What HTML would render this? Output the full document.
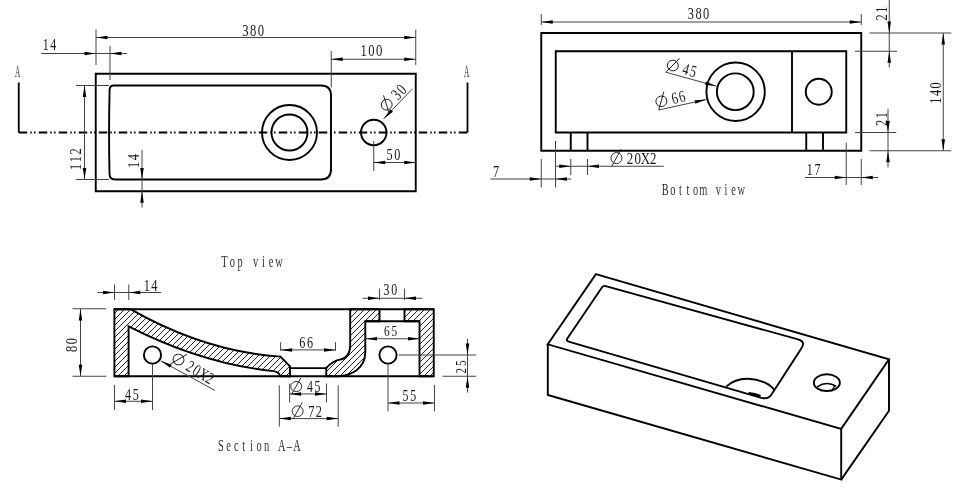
<!DOCTYPE html>
<html><head><meta charset="utf-8"><style>
html,body{margin:0;padding:0;background:#fff;width:960px;height:500px;overflow:hidden}
svg{display:block;filter:grayscale(1)}

</style></head><body>
<svg width="960" height="500" viewBox="0 0 960 500" stroke-linecap="butt">
<rect width="960" height="500" fill="#fff"/>
<path d="M95.75 73.75 H415.75 V191.25 H95.75 Z" stroke="#000" stroke-width="1.9" fill="none" /><path d="M113.5 85.5 H321 Q331 85.5 331 95.5 V169.5 Q331 179.5 321 179.5 H115 Q109.5 179.5 109.5 173.5 Q108.6 132 109.6 89.5 Q110 85.5 113.5 85.5 Z" stroke="#000" stroke-width="1.9" fill="none" /><circle cx="289.5" cy="132.5" r="27.5" stroke="#000" stroke-width="1.9" fill="none"/><circle cx="289.5" cy="132.5" r="18" stroke="#000" stroke-width="1.9" fill="none"/><circle cx="373.75" cy="132.5" r="12.75" stroke="#000" stroke-width="1.9" fill="none"/><path d="M18.75 82.5 V132.5 M467.5 82.5 V132.5" stroke="#000" stroke-width="1.8" fill="none"/><path d="M18.75 132.5 H467.5" stroke="#000" stroke-width="1.8" fill="none" stroke-dasharray="8.5 3 1.5 2.25 1.5 3.25"/><g transform="translate(17.6 71.2) rotate(0)"><text x="0.00" y="5.35" transform="scale(0.45 1)" font-size="16.34" text-anchor="middle" fill="#333" font-family="Liberation Serif">A</text></g><g transform="translate(466.6 71.2) rotate(0)"><text x="0.00" y="5.35" transform="scale(0.45 1)" font-size="16.34" text-anchor="middle" fill="#333" font-family="Liberation Serif">A</text></g><line x1="96" y1="29.5" x2="96" y2="65" stroke="#444" stroke-width="1.0"/><line x1="415.75" y1="29.5" x2="415.75" y2="65" stroke="#444" stroke-width="1.0"/><line x1="96" y1="37.5" x2="415.75" y2="37.5" stroke="#444" stroke-width="1.0"/><path d="M96.00 37.50 L107.50 35.75 L107.50 39.25 Z" fill="#000"/><path d="M415.75 37.50 L404.25 39.25 L404.25 35.75 Z" fill="#000"/><g transform="translate(253.1 29.9) rotate(0)"><text x="-10.41" y="5.60" transform="scale(0.74 1)" font-size="17.10" text-anchor="middle" fill="#1a1a1a" font-family="Liberation Serif">3</text><text x="0.00" y="5.60" transform="scale(0.74 1)" font-size="17.10" text-anchor="middle" fill="#1a1a1a" font-family="Liberation Serif">8</text><text x="10.41" y="5.60" transform="scale(0.74 1)" font-size="17.10" text-anchor="middle" fill="#1a1a1a" font-family="Liberation Serif">0</text></g><line x1="41" y1="53.5" x2="127" y2="53.5" stroke="#444" stroke-width="1.0"/><line x1="110" y1="46" x2="110" y2="80" stroke="#444" stroke-width="1.0"/><path d="M96.00 53.50 L84.50 55.25 L84.50 51.75 Z" fill="#000"/><path d="M110.00 53.50 L121.50 51.75 L121.50 55.25 Z" fill="#000"/><g transform="translate(49.5 44.6) rotate(0)"><text x="-5.20" y="5.30" transform="scale(0.74 1)" font-size="16.18" text-anchor="middle" fill="#1a1a1a" font-family="Liberation Serif">1</text><text x="5.20" y="5.30" transform="scale(0.74 1)" font-size="16.18" text-anchor="middle" fill="#1a1a1a" font-family="Liberation Serif">4</text></g><line x1="331.25" y1="51" x2="331.25" y2="87.5" stroke="#444" stroke-width="1.0"/><line x1="331.25" y1="59.25" x2="415.75" y2="59.25" stroke="#444" stroke-width="1.0"/><path d="M331.25 59.25 L342.75 57.50 L342.75 61.00 Z" fill="#000"/><path d="M415.75 59.25 L404.25 61.00 L404.25 57.50 Z" fill="#000"/><g transform="translate(371.4 50.8) rotate(0)"><text x="-10.41" y="5.60" transform="scale(0.74 1)" font-size="17.10" text-anchor="middle" fill="#1a1a1a" font-family="Liberation Serif">1</text><text x="0.00" y="5.60" transform="scale(0.74 1)" font-size="17.10" text-anchor="middle" fill="#1a1a1a" font-family="Liberation Serif">0</text><text x="10.41" y="5.60" transform="scale(0.74 1)" font-size="17.10" text-anchor="middle" fill="#1a1a1a" font-family="Liberation Serif">0</text></g><line x1="412.5" y1="88.75" x2="383.75" y2="118.75" stroke="#444" stroke-width="1.0"/><path d="M383.75 118.75 L390.44 109.24 L392.97 111.66 Z" fill="#000"/><g transform="translate(392.9 98.1) rotate(-46.7)"><ellipse cx="-9.05" cy="0" rx="5.50" ry="5.30" fill="none" stroke="#1a1a1a" stroke-width="0.9"/><line x1="-13.65" y1="7.80" x2="-4.45" y2="-8.70" stroke="#1a1a1a" stroke-width="0.9"/><text x="6.15" y="5.50" transform="scale(0.74 1)" font-size="16.79" text-anchor="middle" fill="#1a1a1a" font-family="Liberation Serif">3</text><text x="16.55" y="5.50" transform="scale(0.74 1)" font-size="16.79" text-anchor="middle" fill="#1a1a1a" font-family="Liberation Serif">0</text></g><line x1="76" y1="85.5" x2="109" y2="85.5" stroke="#444" stroke-width="1.0"/><line x1="76" y1="179.5" x2="109" y2="179.5" stroke="#444" stroke-width="1.0"/><line x1="84.5" y1="85.5" x2="84.5" y2="179.5" stroke="#444" stroke-width="1.0"/><path d="M84.50 85.50 L86.25 97.00 L82.75 97.00 Z" fill="#000"/><path d="M84.50 179.50 L82.75 168.00 L86.25 168.00 Z" fill="#000"/><g transform="translate(76 159.25) rotate(-90)"><text x="-10.41" y="5.40" transform="scale(0.74 1)" font-size="16.49" text-anchor="middle" fill="#1a1a1a" font-family="Liberation Serif">1</text><text x="0.00" y="5.40" transform="scale(0.74 1)" font-size="16.49" text-anchor="middle" fill="#1a1a1a" font-family="Liberation Serif">1</text><text x="10.41" y="5.40" transform="scale(0.74 1)" font-size="16.49" text-anchor="middle" fill="#1a1a1a" font-family="Liberation Serif">2</text></g><line x1="142" y1="150" x2="142" y2="207.5" stroke="#444" stroke-width="1.0"/><path d="M142.00 179.50 L140.25 168.00 L143.75 168.00 Z" fill="#000"/><path d="M142.00 191.25 L143.75 202.75 L140.25 202.75 Z" fill="#000"/><g transform="translate(133.75 161) rotate(-90)"><text x="-5.20" y="5.50" transform="scale(0.74 1)" font-size="16.79" text-anchor="middle" fill="#1a1a1a" font-family="Liberation Serif">1</text><text x="5.20" y="5.50" transform="scale(0.74 1)" font-size="16.79" text-anchor="middle" fill="#1a1a1a" font-family="Liberation Serif">4</text></g><line x1="373.75" y1="141" x2="373.75" y2="171" stroke="#444" stroke-width="1.0"/><line x1="373.75" y1="162.5" x2="415.75" y2="162.5" stroke="#444" stroke-width="1.0"/><path d="M373.75 162.50 L385.25 160.75 L385.25 164.25 Z" fill="#000"/><path d="M415.75 162.50 L404.25 164.25 L404.25 160.75 Z" fill="#000"/><g transform="translate(393.4 154.4) rotate(0)"><text x="-5.20" y="5.40" transform="scale(0.74 1)" font-size="16.49" text-anchor="middle" fill="#1a1a1a" font-family="Liberation Serif">5</text><text x="5.20" y="5.40" transform="scale(0.74 1)" font-size="16.49" text-anchor="middle" fill="#1a1a1a" font-family="Liberation Serif">0</text></g><g transform="translate(251.7 262.1) rotate(0)"><text x="-41.20" y="5.15" transform="scale(0.66 1)" font-size="15.73" text-anchor="middle" fill="#333" font-family="Liberation Serif">T</text><text x="-29.43" y="5.15" transform="scale(0.66 1)" font-size="15.73" text-anchor="middle" fill="#333" font-family="Liberation Serif">o</text><text x="-17.66" y="5.15" transform="scale(0.66 1)" font-size="15.73" text-anchor="middle" fill="#333" font-family="Liberation Serif">p</text><text x="5.89" y="5.15" transform="scale(0.66 1)" font-size="15.73" text-anchor="middle" fill="#333" font-family="Liberation Serif">v</text><text x="17.66" y="5.15" transform="scale(0.66 1)" font-size="15.73" text-anchor="middle" fill="#333" font-family="Liberation Serif">i</text><text x="29.43" y="5.15" transform="scale(0.66 1)" font-size="15.73" text-anchor="middle" fill="#333" font-family="Liberation Serif">e</text><text x="41.20" y="5.15" transform="scale(0.66 1)" font-size="15.73" text-anchor="middle" fill="#333" font-family="Liberation Serif">w</text></g><path d="M541.25 33 H861.25 V150.75 H541.25 Z" stroke="#000" stroke-width="1.9" fill="none" /><path d="M555.75 51.25 H846.25 V132.5 H555.75 Z" stroke="#000" stroke-width="1.9" fill="none" /><line x1="792" y1="51.25" x2="792" y2="132.5" stroke="#000" stroke-width="1.9"/><path d="M570.75 132.5 V150.75 M587.5 132.5 V150.75 M806.25 132.5 V150.75 M823 132.5 V150.75" stroke="#000" stroke-width="1.9" fill="none" /><circle cx="735.6" cy="91.75" r="29.2" stroke="#000" stroke-width="1.9" fill="none"/><circle cx="735.3" cy="91.75" r="18.4" stroke="#000" stroke-width="1.9" fill="none"/><circle cx="818.75" cy="91.75" r="13" stroke="#000" stroke-width="1.9" fill="none"/><line x1="541.25" y1="14" x2="541.25" y2="25" stroke="#444" stroke-width="1.0"/><line x1="861.25" y1="14" x2="861.25" y2="25" stroke="#444" stroke-width="1.0"/><line x1="541.25" y1="22" x2="861.25" y2="22" stroke="#444" stroke-width="1.0"/><path d="M541.25 22.00 L552.75 20.25 L552.75 23.75 Z" fill="#000"/><path d="M861.25 22.00 L849.75 23.75 L849.75 20.25 Z" fill="#000"/><g transform="translate(698.5 13.9) rotate(0)"><text x="-10.41" y="5.50" transform="scale(0.74 1)" font-size="16.79" text-anchor="middle" fill="#1a1a1a" font-family="Liberation Serif">3</text><text x="0.00" y="5.50" transform="scale(0.74 1)" font-size="16.79" text-anchor="middle" fill="#1a1a1a" font-family="Liberation Serif">8</text><text x="10.41" y="5.50" transform="scale(0.74 1)" font-size="16.79" text-anchor="middle" fill="#1a1a1a" font-family="Liberation Serif">0</text></g><line x1="665.3" y1="72.1" x2="716.5" y2="86.2" stroke="#444" stroke-width="1.0"/><path d="M716.50 86.20 L704.95 84.83 L705.88 81.46 Z" fill="#000"/><g transform="translate(681.5 68.0) rotate(15.8)"><ellipse cx="-9.05" cy="0" rx="5.50" ry="5.30" fill="none" stroke="#1a1a1a" stroke-width="0.9"/><line x1="-13.65" y1="7.80" x2="-4.45" y2="-8.70" stroke="#1a1a1a" stroke-width="0.9"/><text x="6.15" y="5.50" transform="scale(0.74 1)" font-size="16.79" text-anchor="middle" fill="#1a1a1a" font-family="Liberation Serif">4</text><text x="16.55" y="5.50" transform="scale(0.74 1)" font-size="16.79" text-anchor="middle" fill="#1a1a1a" font-family="Liberation Serif">5</text></g><line x1="658.75" y1="110" x2="706.25" y2="99.5" stroke="#444" stroke-width="1.0"/><path d="M706.25 99.50 L695.40 103.69 L694.64 100.27 Z" fill="#000"/><g transform="translate(670.2 99.2) rotate(-13.4)"><ellipse cx="-9.05" cy="0" rx="5.50" ry="5.30" fill="none" stroke="#1a1a1a" stroke-width="0.9"/><line x1="-13.65" y1="7.80" x2="-4.45" y2="-8.70" stroke="#1a1a1a" stroke-width="0.9"/><text x="6.15" y="5.50" transform="scale(0.74 1)" font-size="16.79" text-anchor="middle" fill="#1a1a1a" font-family="Liberation Serif">6</text><text x="16.55" y="5.50" transform="scale(0.74 1)" font-size="16.79" text-anchor="middle" fill="#1a1a1a" font-family="Liberation Serif">6</text></g><line x1="889.25" y1="0" x2="889.25" y2="67.5" stroke="#444" stroke-width="1.0"/><line x1="869.5" y1="33" x2="951.25" y2="33" stroke="#444" stroke-width="1.0"/><line x1="855" y1="51.25" x2="897" y2="51.25" stroke="#444" stroke-width="1.0"/><path d="M889.25 33.00 L887.50 21.50 L891.00 21.50 Z" fill="#000"/><path d="M889.25 51.25 L891.00 62.75 L887.50 62.75 Z" fill="#000"/><g transform="translate(881.9 13.6) rotate(-90)"><text x="-5.20" y="5.40" transform="scale(0.74 1)" font-size="16.49" text-anchor="middle" fill="#1a1a1a" font-family="Liberation Serif">2</text><text x="5.20" y="5.40" transform="scale(0.74 1)" font-size="16.49" text-anchor="middle" fill="#1a1a1a" font-family="Liberation Serif">1</text></g><line x1="888" y1="108.75" x2="888" y2="167.5" stroke="#444" stroke-width="1.0"/><line x1="855" y1="132.5" x2="896.25" y2="132.5" stroke="#444" stroke-width="1.0"/><line x1="869.5" y1="150.75" x2="951.25" y2="150.75" stroke="#444" stroke-width="1.0"/><path d="M888.00 132.50 L886.25 121.00 L889.75 121.00 Z" fill="#000"/><path d="M888.00 150.75 L889.75 162.25 L886.25 162.25 Z" fill="#000"/><g transform="translate(881.6 119) rotate(-90)"><text x="-5.20" y="5.40" transform="scale(0.74 1)" font-size="16.49" text-anchor="middle" fill="#1a1a1a" font-family="Liberation Serif">2</text><text x="5.20" y="5.40" transform="scale(0.74 1)" font-size="16.49" text-anchor="middle" fill="#1a1a1a" font-family="Liberation Serif">1</text></g><line x1="943.25" y1="33" x2="943.25" y2="150.75" stroke="#444" stroke-width="1.0"/><path d="M943.25 33.00 L945.00 44.50 L941.50 44.50 Z" fill="#000"/><path d="M943.25 150.75 L941.50 139.25 L945.00 139.25 Z" fill="#000"/><g transform="translate(935.5 93) rotate(-90)"><text x="-10.41" y="5.50" transform="scale(0.74 1)" font-size="16.79" text-anchor="middle" fill="#1a1a1a" font-family="Liberation Serif">1</text><text x="0.00" y="5.50" transform="scale(0.74 1)" font-size="16.79" text-anchor="middle" fill="#1a1a1a" font-family="Liberation Serif">4</text><text x="10.41" y="5.50" transform="scale(0.74 1)" font-size="16.79" text-anchor="middle" fill="#1a1a1a" font-family="Liberation Serif">0</text></g><line x1="490.5" y1="179" x2="571.25" y2="179" stroke="#444" stroke-width="1.0"/><line x1="541.25" y1="159" x2="541.25" y2="187.5" stroke="#444" stroke-width="1.0"/><line x1="555.5" y1="141" x2="555.5" y2="187.5" stroke="#444" stroke-width="1.0"/><path d="M541.25 179.00 L529.75 180.75 L529.75 177.25 Z" fill="#000"/><path d="M555.50 179.00 L567.00 177.25 L567.00 180.75 Z" fill="#000"/><g transform="translate(496.1 171.2) rotate(0)"><text x="0.00" y="5.40" transform="scale(0.74 1)" font-size="16.49" text-anchor="middle" fill="#1a1a1a" font-family="Liberation Serif">7</text></g><line x1="555.5" y1="166.25" x2="663.75" y2="166.25" stroke="#444" stroke-width="1.0"/><line x1="570.75" y1="159" x2="570.75" y2="175" stroke="#444" stroke-width="1.0"/><line x1="587.5" y1="159" x2="587.5" y2="175" stroke="#444" stroke-width="1.0"/><path d="M570.75 166.25 L559.25 168.00 L559.25 164.50 Z" fill="#000"/><path d="M587.50 166.25 L599.00 164.50 L599.00 168.00 Z" fill="#000"/><g transform="translate(633.2 158.1) rotate(0)"><ellipse cx="-16.75" cy="0" rx="5.50" ry="5.55" fill="none" stroke="#1a1a1a" stroke-width="0.9"/><line x1="-21.35" y1="8.05" x2="-12.15" y2="-8.95" stroke="#1a1a1a" stroke-width="0.9"/><text x="-4.26" y="5.75" transform="scale(0.74 1)" font-size="17.56" text-anchor="middle" fill="#1a1a1a" font-family="Liberation Serif">2</text><text x="6.15" y="5.75" transform="scale(0.74 1)" font-size="17.56" text-anchor="middle" fill="#1a1a1a" font-family="Liberation Serif">0</text><text x="16.55" y="5.75" transform="scale(0.74 1)" font-size="17.56" text-anchor="middle" fill="#1a1a1a" font-family="Liberation Serif">X</text><text x="26.96" y="5.75" transform="scale(0.74 1)" font-size="17.56" text-anchor="middle" fill="#1a1a1a" font-family="Liberation Serif">2</text></g><line x1="805" y1="177.5" x2="878" y2="177.5" stroke="#444" stroke-width="1.0"/><line x1="846.25" y1="142.5" x2="846.25" y2="185" stroke="#444" stroke-width="1.0"/><line x1="861.25" y1="159" x2="861.25" y2="185" stroke="#444" stroke-width="1.0"/><path d="M846.25 177.50 L834.75 179.25 L834.75 175.75 Z" fill="#000"/><path d="M861.25 177.50 L872.75 175.75 L872.75 179.25 Z" fill="#000"/><g transform="translate(813.65 169.25) rotate(0)"><text x="-5.20" y="5.25" transform="scale(0.74 1)" font-size="16.03" text-anchor="middle" fill="#1a1a1a" font-family="Liberation Serif">1</text><text x="5.20" y="5.25" transform="scale(0.74 1)" font-size="16.03" text-anchor="middle" fill="#1a1a1a" font-family="Liberation Serif">7</text></g><g transform="translate(703.2 189.9) rotate(0)"><text x="-57.58" y="5.15" transform="scale(0.66 1)" font-size="15.73" text-anchor="middle" fill="#333" font-family="Liberation Serif">B</text><text x="-46.06" y="5.15" transform="scale(0.66 1)" font-size="15.73" text-anchor="middle" fill="#333" font-family="Liberation Serif">o</text><text x="-34.55" y="5.15" transform="scale(0.66 1)" font-size="15.73" text-anchor="middle" fill="#333" font-family="Liberation Serif">t</text><text x="-23.03" y="5.15" transform="scale(0.66 1)" font-size="15.73" text-anchor="middle" fill="#333" font-family="Liberation Serif">t</text><text x="-11.52" y="5.15" transform="scale(0.66 1)" font-size="15.73" text-anchor="middle" fill="#333" font-family="Liberation Serif">o</text><text x="0.00" y="5.15" transform="scale(0.66 1)" font-size="15.73" text-anchor="middle" fill="#333" font-family="Liberation Serif">m</text><text x="23.03" y="5.15" transform="scale(0.66 1)" font-size="15.73" text-anchor="middle" fill="#333" font-family="Liberation Serif">v</text><text x="34.55" y="5.15" transform="scale(0.66 1)" font-size="15.73" text-anchor="middle" fill="#333" font-family="Liberation Serif">i</text><text x="46.06" y="5.15" transform="scale(0.66 1)" font-size="15.73" text-anchor="middle" fill="#333" font-family="Liberation Serif">e</text><text x="57.58" y="5.15" transform="scale(0.66 1)" font-size="15.73" text-anchor="middle" fill="#333" font-family="Liberation Serif">w</text></g><defs><pattern id="h" patternUnits="userSpaceOnUse" width="6.0" height="6.0" x="2.0" y="0"><path d="M-1 1 L1 -1 M0 6.0 L6.0 0 M5.0 7.0 L7.0 5.0" stroke="#1a1a1a" stroke-width="0.95"/></pattern></defs><path d="M114.4 309.2 H130.50 Q205.45 351.95 280.40 356.59 L290 366.3 V376.25 H280 Q279.6 372.2 273.30 371.14 Q200.90 363.30 128.6 326.28 V376.25 H114.4 Z" fill="url(#h)" stroke="none"/><path d="M326.25 376.25 V368.1 C330 363.5 334 360.6 340 359.6 C347 358.4 350.2 354 350.2 345 V309.2 H379.5 V321.25 H365.3 V352 C365.3 368 352 375.6 337.7 376.25 Z" fill="url(#h)" stroke="none"/><path d="M404.5 309.2 H433.75 V376.25 H419.5 V321.25 H404.5 Z" fill="url(#h)" stroke="none"/><path d="M114.4 309.2 H130.50 Q205.45 351.95 280.40 356.59 L290 366.3 V376.25 H280 Q279.6 372.2 273.30 371.14 Q200.90 363.30 128.6 326.28 V376.25 H114.4 Z" stroke="#000" stroke-width="1.9" fill="none" /><path d="M326.25 376.25 V368.1 C330 363.5 334 360.6 340 359.6 C347 358.4 350.2 354 350.2 345 V309.2 H379.5 V321.25 H365.3 V352 C365.3 368 352 375.6 337.7 376.25 Z" stroke="#000" stroke-width="1.9" fill="none" /><path d="M404.5 309.2 H433.75 V376.25 H419.5 V321.25 H404.5 Z" stroke="#000" stroke-width="1.9" fill="none" /><line x1="114.4" y1="309.2" x2="433.75" y2="309.2" stroke="#000" stroke-width="1.9"/><line x1="114.4" y1="376.25" x2="433.75" y2="376.25" stroke="#000" stroke-width="1.9"/><line x1="365.3" y1="321.25" x2="419.5" y2="321.25" stroke="#000" stroke-width="1.9"/><line x1="290" y1="368.1" x2="326.25" y2="368.1" stroke="#000" stroke-width="1.9"/><circle cx="152.5" cy="355" r="8.6" stroke="#000" stroke-width="1.9" fill="none"/><circle cx="388" cy="355" r="8.6" stroke="#000" stroke-width="1.9" fill="none"/><line x1="160.8" y1="360.8" x2="215" y2="390.5" stroke="#444" stroke-width="1.0"/><path d="M160.80 360.80 L171.73 364.79 L170.04 367.86 Z" fill="#000"/><g transform="translate(192.9 368.1) rotate(31)"><ellipse cx="-16.75" cy="0" rx="5.50" ry="5.30" fill="none" stroke="#1a1a1a" stroke-width="0.9"/><line x1="-21.35" y1="7.80" x2="-12.15" y2="-8.70" stroke="#1a1a1a" stroke-width="0.9"/><text x="-4.26" y="5.50" transform="scale(0.74 1)" font-size="16.79" text-anchor="middle" fill="#1a1a1a" font-family="Liberation Serif">2</text><text x="6.15" y="5.50" transform="scale(0.74 1)" font-size="16.79" text-anchor="middle" fill="#1a1a1a" font-family="Liberation Serif">0</text><text x="16.55" y="5.50" transform="scale(0.74 1)" font-size="16.79" text-anchor="middle" fill="#1a1a1a" font-family="Liberation Serif">X</text><text x="26.96" y="5.50" transform="scale(0.74 1)" font-size="16.79" text-anchor="middle" fill="#1a1a1a" font-family="Liberation Serif">2</text></g><line x1="97.5" y1="292.5" x2="161.25" y2="292.5" stroke="#444" stroke-width="1.0"/><line x1="114.5" y1="284.5" x2="114.5" y2="300" stroke="#444" stroke-width="1.0"/><line x1="128.75" y1="284.5" x2="128.75" y2="300" stroke="#444" stroke-width="1.0"/><path d="M114.50 292.50 L103.00 294.25 L103.00 290.75 Z" fill="#000"/><path d="M128.75 292.50 L140.25 290.75 L140.25 294.25 Z" fill="#000"/><g transform="translate(150.6 285.6) rotate(0)"><text x="-5.20" y="5.50" transform="scale(0.74 1)" font-size="16.79" text-anchor="middle" fill="#1a1a1a" font-family="Liberation Serif">1</text><text x="5.20" y="5.50" transform="scale(0.74 1)" font-size="16.79" text-anchor="middle" fill="#1a1a1a" font-family="Liberation Serif">4</text></g><line x1="72.5" y1="308.75" x2="106.25" y2="308.75" stroke="#444" stroke-width="1.0"/><line x1="72.5" y1="376.25" x2="106.25" y2="376.25" stroke="#444" stroke-width="1.0"/><line x1="80.5" y1="309" x2="80.5" y2="376.25" stroke="#444" stroke-width="1.0"/><path d="M80.50 309.00 L82.25 320.50 L78.75 320.50 Z" fill="#000"/><path d="M80.50 376.25 L78.75 364.75 L82.25 364.75 Z" fill="#000"/><g transform="translate(71.75 345) rotate(-90)"><text x="-5.20" y="5.50" transform="scale(0.74 1)" font-size="16.79" text-anchor="middle" fill="#1a1a1a" font-family="Liberation Serif">8</text><text x="5.20" y="5.50" transform="scale(0.74 1)" font-size="16.79" text-anchor="middle" fill="#1a1a1a" font-family="Liberation Serif">0</text></g><line x1="114.5" y1="401.25" x2="152.5" y2="401.25" stroke="#444" stroke-width="1.0"/><line x1="114.5" y1="385" x2="114.5" y2="410" stroke="#444" stroke-width="1.0"/><line x1="152.5" y1="363.75" x2="152.5" y2="410" stroke="#444" stroke-width="1.0"/><path d="M114.50 401.25 L126.00 399.50 L126.00 403.00 Z" fill="#000"/><path d="M152.50 401.25 L141.00 403.00 L141.00 399.50 Z" fill="#000"/><g transform="translate(131.9 394.1) rotate(0)"><text x="-5.20" y="5.40" transform="scale(0.74 1)" font-size="16.49" text-anchor="middle" fill="#1a1a1a" font-family="Liberation Serif">4</text><text x="5.20" y="5.40" transform="scale(0.74 1)" font-size="16.49" text-anchor="middle" fill="#1a1a1a" font-family="Liberation Serif">5</text></g><line x1="280.6" y1="349.9" x2="335.5" y2="349.9" stroke="#444" stroke-width="1.0"/><line x1="280.6" y1="342.2" x2="280.6" y2="350.8" stroke="#444" stroke-width="1.0"/><line x1="335.5" y1="342.2" x2="335.5" y2="350.8" stroke="#444" stroke-width="1.0"/><path d="M280.60 349.90 L292.10 348.15 L292.10 351.65 Z" fill="#000"/><path d="M335.50 349.90 L324.00 351.65 L324.00 348.15 Z" fill="#000"/><g transform="translate(306.25 342.7) rotate(0)"><text x="-5.20" y="5.40" transform="scale(0.74 1)" font-size="16.49" text-anchor="middle" fill="#1a1a1a" font-family="Liberation Serif">6</text><text x="5.20" y="5.40" transform="scale(0.74 1)" font-size="16.49" text-anchor="middle" fill="#1a1a1a" font-family="Liberation Serif">6</text></g><line x1="289.6" y1="393.9" x2="326.5" y2="393.9" stroke="#444" stroke-width="1.0"/><line x1="289.6" y1="383.5" x2="289.6" y2="402.4" stroke="#444" stroke-width="1.0"/><line x1="326.5" y1="383.5" x2="326.5" y2="402.4" stroke="#444" stroke-width="1.0"/><path d="M289.60 393.90 L301.10 392.15 L301.10 395.65 Z" fill="#000"/><path d="M326.50 393.90 L315.00 395.65 L315.00 392.15 Z" fill="#000"/><g transform="translate(305.3 386.5) rotate(0)"><ellipse cx="-9.05" cy="0" rx="5.50" ry="5.05" fill="none" stroke="#1a1a1a" stroke-width="0.9"/><line x1="-13.65" y1="7.55" x2="-4.45" y2="-8.45" stroke="#1a1a1a" stroke-width="0.9"/><text x="6.15" y="5.25" transform="scale(0.74 1)" font-size="16.03" text-anchor="middle" fill="#1a1a1a" font-family="Liberation Serif">4</text><text x="16.55" y="5.25" transform="scale(0.74 1)" font-size="16.03" text-anchor="middle" fill="#1a1a1a" font-family="Liberation Serif">5</text></g><line x1="279.3" y1="418.6" x2="338.2" y2="418.6" stroke="#444" stroke-width="1.0"/><line x1="279.3" y1="385.3" x2="279.3" y2="426.7" stroke="#444" stroke-width="1.0"/><line x1="338.2" y1="385.3" x2="338.2" y2="426.7" stroke="#444" stroke-width="1.0"/><path d="M279.30 418.60 L290.80 416.85 L290.80 420.35 Z" fill="#000"/><path d="M338.20 418.60 L326.70 420.35 L326.70 416.85 Z" fill="#000"/><g transform="translate(306.7 411.2) rotate(0)"><ellipse cx="-9.05" cy="0" rx="5.50" ry="5.30" fill="none" stroke="#1a1a1a" stroke-width="0.9"/><line x1="-13.65" y1="7.80" x2="-4.45" y2="-8.70" stroke="#1a1a1a" stroke-width="0.9"/><text x="6.15" y="5.50" transform="scale(0.74 1)" font-size="16.79" text-anchor="middle" fill="#1a1a1a" font-family="Liberation Serif">7</text><text x="16.55" y="5.50" transform="scale(0.74 1)" font-size="16.79" text-anchor="middle" fill="#1a1a1a" font-family="Liberation Serif">2</text></g><line x1="362.5" y1="298.25" x2="422.5" y2="298.25" stroke="#444" stroke-width="1.0"/><line x1="379.5" y1="288.75" x2="379.5" y2="300" stroke="#444" stroke-width="1.0"/><line x1="404.5" y1="288.75" x2="404.5" y2="300" stroke="#444" stroke-width="1.0"/><path d="M379.50 298.25 L368.00 300.00 L368.00 296.50 Z" fill="#000"/><path d="M404.50 298.25 L416.00 296.50 L416.00 300.00 Z" fill="#000"/><g transform="translate(390.4 290.2) rotate(0)"><text x="-5.20" y="5.25" transform="scale(0.74 1)" font-size="16.03" text-anchor="middle" fill="#1a1a1a" font-family="Liberation Serif">3</text><text x="5.20" y="5.25" transform="scale(0.74 1)" font-size="16.03" text-anchor="middle" fill="#1a1a1a" font-family="Liberation Serif">0</text></g><line x1="365.5" y1="338.75" x2="419.5" y2="338.75" stroke="#444" stroke-width="1.0"/><path d="M365.50 338.75 L377.00 337.00 L377.00 340.50 Z" fill="#000"/><path d="M419.50 338.75 L408.00 340.50 L408.00 337.00 Z" fill="#000"/><g transform="translate(390.6 331.25) rotate(0)"><text x="-5.20" y="5.00" transform="scale(0.74 1)" font-size="15.27" text-anchor="middle" fill="#1a1a1a" font-family="Liberation Serif">6</text><text x="5.20" y="5.00" transform="scale(0.74 1)" font-size="15.27" text-anchor="middle" fill="#1a1a1a" font-family="Liberation Serif">5</text></g><line x1="398.75" y1="355" x2="476.25" y2="355" stroke="#444" stroke-width="1.0"/><line x1="442.5" y1="376.25" x2="476.25" y2="376.25" stroke="#444" stroke-width="1.0"/><line x1="467.5" y1="338.75" x2="467.5" y2="392.5" stroke="#444" stroke-width="1.0"/><path d="M467.50 355.00 L465.75 343.50 L469.25 343.50 Z" fill="#000"/><path d="M467.50 376.25 L469.25 387.75 L465.75 387.75 Z" fill="#000"/><g transform="translate(460.9 366.9) rotate(-90)"><text x="-5.20" y="4.75" transform="scale(0.74 1)" font-size="14.50" text-anchor="middle" fill="#1a1a1a" font-family="Liberation Serif">2</text><text x="5.20" y="4.75" transform="scale(0.74 1)" font-size="14.50" text-anchor="middle" fill="#1a1a1a" font-family="Liberation Serif">5</text></g><line x1="388" y1="403" x2="434.5" y2="403" stroke="#444" stroke-width="1.0"/><line x1="388" y1="363.5" x2="388" y2="411.25" stroke="#444" stroke-width="1.0"/><line x1="434.5" y1="385" x2="434.5" y2="411.25" stroke="#444" stroke-width="1.0"/><path d="M388.00 403.00 L399.50 401.25 L399.50 404.75 Z" fill="#000"/><path d="M434.50 403.00 L423.00 404.75 L423.00 401.25 Z" fill="#000"/><g transform="translate(409.4 395.25) rotate(0)"><text x="-5.20" y="5.25" transform="scale(0.74 1)" font-size="16.03" text-anchor="middle" fill="#1a1a1a" font-family="Liberation Serif">5</text><text x="5.20" y="5.25" transform="scale(0.74 1)" font-size="16.03" text-anchor="middle" fill="#1a1a1a" font-family="Liberation Serif">5</text></g><g transform="translate(259 445.8) rotate(0)"><text x="-57.58" y="5.15" transform="scale(0.66 1)" font-size="15.73" text-anchor="middle" fill="#333" font-family="Liberation Serif">S</text><text x="-46.06" y="5.15" transform="scale(0.66 1)" font-size="15.73" text-anchor="middle" fill="#333" font-family="Liberation Serif">e</text><text x="-34.55" y="5.15" transform="scale(0.66 1)" font-size="15.73" text-anchor="middle" fill="#333" font-family="Liberation Serif">c</text><text x="-23.03" y="5.15" transform="scale(0.66 1)" font-size="15.73" text-anchor="middle" fill="#333" font-family="Liberation Serif">t</text><text x="-11.52" y="5.15" transform="scale(0.66 1)" font-size="15.73" text-anchor="middle" fill="#333" font-family="Liberation Serif">i</text><text x="0.00" y="5.15" transform="scale(0.66 1)" font-size="15.73" text-anchor="middle" fill="#333" font-family="Liberation Serif">o</text><text x="11.52" y="5.15" transform="scale(0.66 1)" font-size="15.73" text-anchor="middle" fill="#333" font-family="Liberation Serif">n</text><text x="34.55" y="5.15" transform="scale(0.66 1)" font-size="15.73" text-anchor="middle" fill="#333" font-family="Liberation Serif">A</text><text x="46.06" y="5.15" transform="scale(0.66 1)" font-size="15.73" text-anchor="middle" fill="#333" font-family="Liberation Serif">–</text><text x="57.58" y="5.15" transform="scale(0.66 1)" font-size="15.73" text-anchor="middle" fill="#333" font-family="Liberation Serif">A</text></g><path d="M595.9 274.2 L889 359.4 L841.2 428.9 L547.8 344.3 Z" stroke="#000" stroke-width="1.9" fill="none" /><path d="M547.8 344.3 V395 L841.2 479.6 V428.9" stroke="#000" stroke-width="1.9" fill="none" /><path d="M889 359.4 V410.7 L841.2 479.6" stroke="#000" stroke-width="1.9" fill="none" /><path d="M601.90 287.47 Q603.30 285.40 605.71 286.07 L798.09 339.36 Q805.80 341.50 801.45 348.21 L771.81 393.93 Q768.00 399.80 761.28 397.84 L568.68 341.64 Q565.80 340.80 567.48 338.32 Z" stroke="#000" stroke-width="1.9" fill="none" /><path d="M726.1 386.6 C733 380.5 741 378.6 748 378.8 C760 379.3 771 384 774.4 390.5" stroke="#000" stroke-width="1.9" fill="none" /><path d="M748.5 393.2 Q755 393.6 760.5 396.2" stroke="#000" stroke-width="2.4" fill="none" /><ellipse cx="826.85" cy="382.65" rx="13" ry="8.4" stroke="#000" stroke-width="1.9" fill="none"/><path d="M817.2 386.8 Q826.5 380.6 836.2 386.2" stroke="#000" stroke-width="1.6" fill="none" /><path d="M834.6 386.2 L832 390" stroke="#000" stroke-width="1.3" fill="none" />
</svg></body></html>
